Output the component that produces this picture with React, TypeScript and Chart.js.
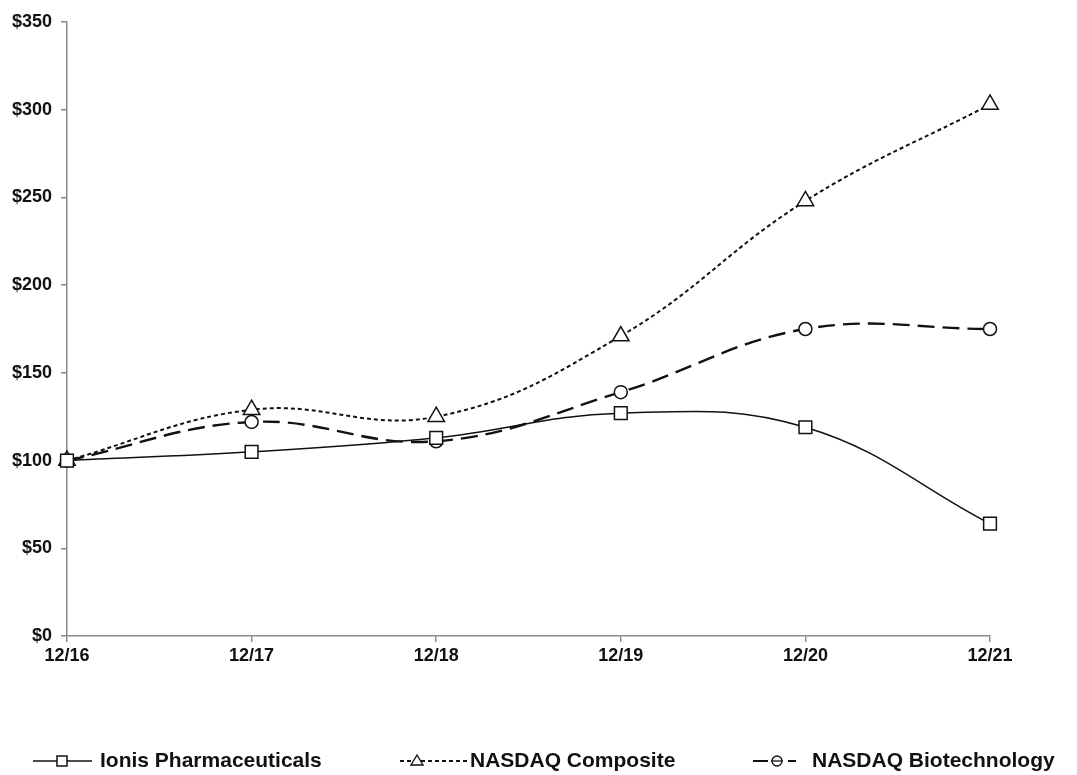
import React, { useEffect, useRef } from "react";
import { Chart, registerables } from "chart.js";

Chart.register(...registerables);

const categories = ["12/16", "12/17", "12/18", "12/19", "12/20", "12/21"];
const ionis = [100, 105, 113, 127, 119, 64];
const nasdaqComposite = [100, 129, 125, 171, 248, 303];
const nasdaqBiotech = [100, 122, 111, 139, 175, 175];
const seriesNames = ["Ionis Pharmaceuticals", "NASDAQ Composite", "NASDAQ Biotechnology"];
const yTickValues = [0, 50, 100, 150, 200, 250, 300, 350];

const FONT = "'Liberation Sans', Arial, sans-serif";
const AXIS = "#8a8a8a";
const INK = "#111";

const legendPlugin = {
  id: "customLegend",
  afterDraw(chart: any) {
    const ctx = chart.ctx as CanvasRenderingContext2D;
    const y = 761;
    ctx.save();
    ctx.strokeStyle = INK;
    ctx.fillStyle = "#fff";
    // item 1: solid line with square
    ctx.lineWidth = 1.5;
    ctx.setLineDash([]);
    ctx.beginPath();
    ctx.moveTo(33, y);
    ctx.lineTo(92, y);
    ctx.stroke();
    ctx.fillRect(57, y - 5, 10, 10);
    ctx.strokeRect(57, y - 5, 10, 10);
    // item 2: short dashes with triangle
    ctx.lineWidth = 2;
    ctx.setLineDash([4, 3]);
    ctx.beginPath();
    ctx.moveTo(400, y);
    ctx.lineTo(468, y);
    ctx.stroke();
    ctx.setLineDash([]);
    ctx.lineWidth = 1.4;
    ctx.beginPath();
    ctx.moveTo(417, y - 6);
    ctx.lineTo(423, y + 4);
    ctx.lineTo(411, y + 4);
    ctx.closePath();
    ctx.fill();
    ctx.stroke();
    // item 3: long dash, circle, short dash
    ctx.lineWidth = 2.2;
    ctx.beginPath();
    ctx.moveTo(753, y);
    ctx.lineTo(768, y);
    ctx.moveTo(788, y);
    ctx.lineTo(796, y);
    ctx.stroke();
    ctx.lineWidth = 1.3;
    ctx.beginPath();
    ctx.arc(777, y, 5, 0, Math.PI * 2);
    ctx.fill();
    ctx.stroke();
    ctx.beginPath();
    ctx.moveTo(771, y);
    ctx.lineTo(783, y);
    ctx.stroke();
    // texts
    ctx.fillStyle = INK;
    ctx.font = "bold 21px " + FONT;
    ctx.textBaseline = "middle";
    ctx.textAlign = "left";
    ctx.fillText(seriesNames[0], 100, y);
    ctx.fillText(seriesNames[1], 470, y);
    ctx.fillText(seriesNames[2], 812, y);
    ctx.restore();
  },
};

export default function App() {
  const ref = useRef<HTMLCanvasElement | null>(null);

  useEffect(() => {
    if (!ref.current) return;
    const common = {
      borderColor: INK,
      pointBackgroundColor: "#fff",
      pointBorderColor: INK,
      pointBorderWidth: 1.5,
      tension: 0.4,
      fill: false,
      clip: false as any,
    };
    const chart = new Chart(ref.current, {
      type: "line",
      data: {
        labels: categories,
        datasets: [
          {
            ...common,
            label: seriesNames[0],
            data: ionis,
            borderWidth: 1.5,
            pointStyle: "rect",
            pointRadius: 9,
          },
          {
            ...common,
            label: seriesNames[1],
            data: nasdaqComposite,
            borderWidth: 2,
            borderDash: [4, 3],
            pointStyle: "triangle",
            pointRadius: 9.5,
          },
          {
            ...common,
            label: seriesNames[2],
            data: nasdaqBiotech,
            borderWidth: 2.4,
            borderDash: [17, 8],
            pointStyle: "circle",
            pointRadius: 6.5,
          },
        ],
      },
      options: {
        animation: false,
        responsive: false,
        layout: { padding: { left: 0, right: 87, top: 22, bottom: 99 } },
        plugins: { legend: { display: false }, tooltip: { enabled: false } },
        scales: {
          x: {
            offset: false,
            grid: { drawOnChartArea: false, drawTicks: true, tickLength: 6, color: AXIS, lineWidth: 1.5 },
            border: { color: AXIS, width: 1.5 },
            ticks: { color: INK, font: { family: FONT, size: 18, weight: "bold" }, padding: 3, maxRotation: 0 },
            afterFit: (s: any) => {
              s.height = 40;
            },
          },
          y: {
            min: 0,
            max: 350,
            afterBuildTicks: (s: any) => {
              s.ticks = yTickValues.map((v) => ({ value: v }));
            },
            grid: { drawOnChartArea: false, drawTicks: true, tickLength: 6, color: AXIS, lineWidth: 1.5 },
            border: { color: AXIS, width: 1.5 },
            ticks: {
              color: INK,
              font: { family: FONT, size: 18, weight: "bold" },
              padding: 9,
              callback: (v: any) => "$" + v,
            },
            afterFit: (s: any) => {
              s.width = 67;
            },
          },
        },
      },
      plugins: [legendPlugin],
    });
    return () => chart.destroy();
  }, []);

  return (
    <div style={{ position: "absolute", left: 0, top: 0, width: 1077, height: 775, background: "#fff" }}>
      <canvas ref={ref} width={1077} height={775} style={{ display: "block" }} />
    </div>
  );
}
